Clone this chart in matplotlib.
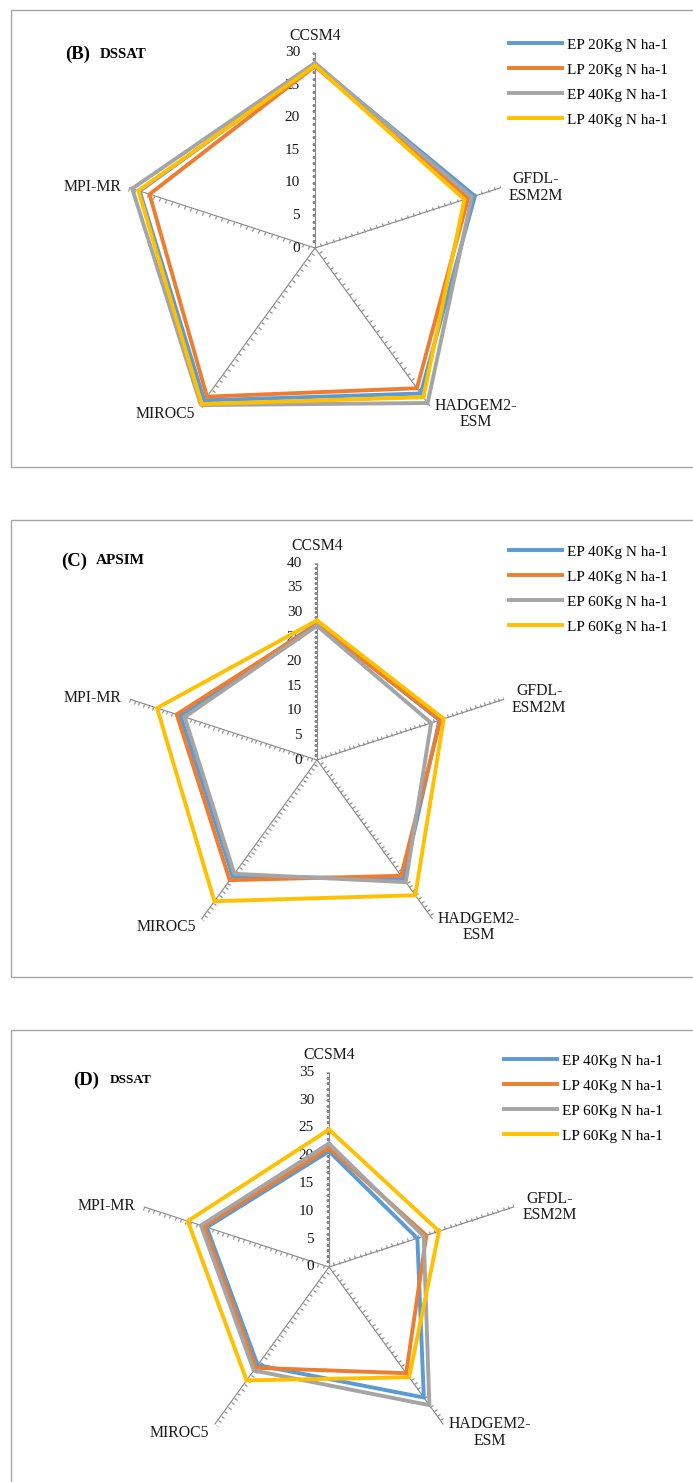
import numpy as np
import matplotlib
matplotlib.use("Agg")
import matplotlib.pyplot as plt
from matplotlib.markers import MarkerStyle
from matplotlib.transforms import Affine2D
from matplotlib.patches import Rectangle

plt.rcParams['font.family'] = ['Liberation Serif', 'DejaVu Serif']

# ---- data ---------------------------------------------------------------
models = ["CCSM4", "GFDL-\nESM2M", "HADGEM2-\nESM", "MIROC5", "MPI-MR"]

# (B) DSSAT
b_labels = ["EP 20Kg N ha-1", "LP 20Kg N ha-1", "EP 40Kg N ha-1", "LP 40Kg N ha-1"]
b_ep20 = [28.2, 25.8, 27.6, 28.9, 28.3]
b_lp20 = [27.9, 24.7, 26.6, 28.2, 26.7]
b_ep40 = [28.4, 25.3, 29.4, 29.8, 29.5]
b_lp40 = [28.0, 24.1, 28.3, 29.6, 28.5]
b_ticks = [0, 5, 10, 15, 20, 25, 30]

# (C) APSIM
c_labels = ["EP 40Kg N ha-1", "LP 40Kg N ha-1", "EP 60Kg N ha-1", "LP 60Kg N ha-1"]
c_ep40 = [27.8, 26.2, 29.9, 29.2, 29.2]
c_lp40 = [27.5, 26.4, 29.1, 30.2, 30.0]
c_ep60 = [27.3, 24.4, 30.7, 28.6, 28.3]
c_lp60 = [28.4, 27.1, 34.0, 35.5, 34.2]
c_ticks = [0, 5, 10, 15, 20, 25, 30, 35, 40]

# (D) DSSAT
d_labels = ["EP 40Kg N ha-1", "LP 40Kg N ha-1", "EP 60Kg N ha-1", "LP 60Kg N ha-1"]
d_ep40 = [20.8, 16.7, 29.0, 21.8, 23.1]
d_lp40 = [21.4, 18.4, 23.6, 22.4, 23.6]
d_ep60 = [22.2, 17.9, 30.7, 23.0, 24.2]
d_lp60 = [24.7, 20.8, 24.5, 25.2, 26.7]
d_ticks = [0, 5, 10, 15, 20, 25, 30, 35]

colors = ["#5B9BD5", "#ED7D31", "#A5A5A5", "#FFC000"]

W, H = 693, 1482
fig = plt.figure(figsize=(W / 100, H / 100), dpi=100)


def fx(px):
    return px / W


def fy(py):
    return 1 - py / H


def panel(cx, cy, radius, ticks, series, labels, tag, model_name, name_size,
          box_top, box_bottom, leg_x, leg_y):
    # frame around the panel
    bottom = box_bottom if box_bottom is not None else H + 20
    fig.add_artist(Rectangle((fx(11), fy(bottom)), fx(W + 20 - 11), fy(box_top) - fy(bottom),
                             transform=fig.transFigure, fill=False,
                             edgecolor="#A6A6A6", linewidth=1.0))

    ax = fig.add_axes([fx(cx - radius), fy(cy + radius), fx(2 * radius), 2 * radius / H],
                      projection="polar")
    ax.set_theta_zero_location("N")
    ax.set_theta_direction(-1)
    rmax = ticks[-1]
    ax.set_ylim(0, rmax)
    ax.axis("off")

    n = len(models)
    theta = np.arange(n) * 2 * np.pi / n

    # spokes with minor tick marks every unit
    minor = np.arange(1, rmax + 1)
    for k, t in enumerate(theta):
        ax.plot([t, t], [0, rmax], color="#888888", lw=0.8, zorder=1)
        rot = -np.degrees(t)
        mk = MarkerStyle(0, transform=Affine2D().rotate_deg(rot))
        ax.plot(np.full_like(minor, t, dtype=float), minor, linestyle="none",
                marker=mk, markersize=2.4, markeredgewidth=0.8,
                markeredgecolor="#888888", zorder=1)

    # value labels on the first spoke
    for v in ticks:
        ax.annotate(str(v), xy=(0, v), xytext=(-15, 0), textcoords="offset pixels",
                    ha="right", va="center", fontsize=11, color="#1a1a1a")

    # model labels
    offs = [((0, 17), "center", "center"), ((8, 0), "left", "center"),
            ((5, -8), "left", "center"), ((-5, -8), "right", "center"),
            ((-8, 1), "right", "center")]
    for k, (name, (off, ha, va)) in enumerate(zip(models, offs)):
        ax.annotate(name, xy=(theta[k], rmax), xytext=off, textcoords="offset pixels",
                    ha=ha, va=va, fontsize=11.3, color="#1a1a1a",
                    multialignment="center", linespacing=1.05)

    # series
    handles = []
    th_closed = np.append(theta, theta[0])
    for vals, col in zip(series, colors):
        v = np.append(vals, vals[0])
        h, = ax.plot(th_closed, v, color=col, lw=2.8, solid_joinstyle="miter", zorder=3)
        handles.append(h)

    fig.legend(handles, labels, loc="upper left",
               bbox_to_anchor=(fx(leg_x), fy(leg_y)), bbox_transform=fig.transFigure,
               frameon=False, fontsize=11, handlelength=3.45, handletextpad=0.35,
               labelspacing=0.74, borderpad=0, borderaxespad=0)

    # panel tag and model name
    ty = tag[1]
    fig.text(fx(tag[0]), fy(ty), tag[2], fontsize=13.5, fontweight="bold",
             ha="left", va="center")
    fig.text(fx(tag[3]), fy(ty), model_name, fontsize=name_size, fontweight="bold",
             ha="left", va="center")


panel(315, 248, 195.5, b_ticks, [b_ep20, b_lp20, b_ep40, b_lp40], b_labels,
      (65, 54, "(B)", 100), "DSSAT", 10.7, 10, 467, 509, 38)
panel(317, 760, 196.7, c_ticks, [c_ep40, c_lp40, c_ep60, c_lp60], c_labels,
      (61, 561, "(C)", 96), "APSIM", 11, 520, 977, 509, 545)
panel(329, 1267, 194.7, d_ticks, [d_ep40, d_lp40, d_ep60, d_lp60], d_labels,
      (73, 1080, "(D)", 109.5), "DSSAT", 9.5, 1030, None, 504, 1054)

fig.savefig("out.png", dpi=100, facecolor="white")
